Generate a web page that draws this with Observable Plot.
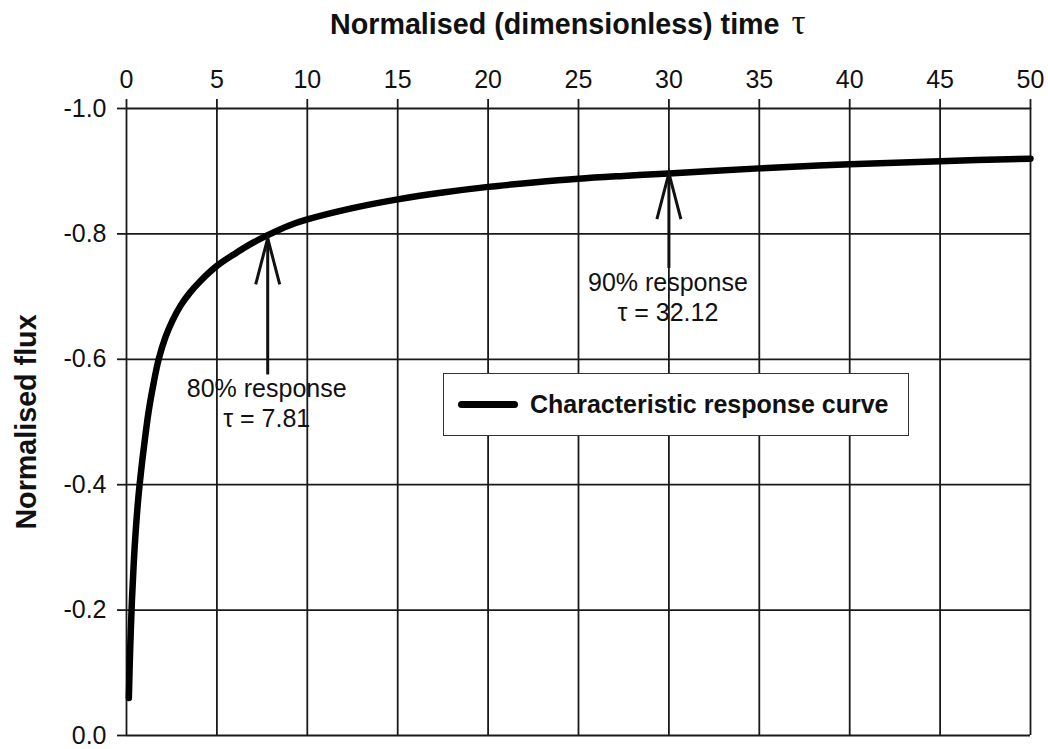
<!DOCTYPE html>
<html><head><meta charset="utf-8">
<script src="https://cdn.jsdelivr.net/npm/d3@7"></script>
<script src="https://cdn.jsdelivr.net/npm/@observablehq/plot@0.6"></script>
<style>
html,body{margin:0;padding:0;background:#fff;}
#wrap{position:relative;width:1048px;height:749px;overflow:hidden;font-family:'Liberation Sans',Arial,sans-serif;color:#111;}
#title{position:absolute;left:330px;top:0;height:45px;line-height:45px;font-weight:bold;font-size:28.7px;white-space:nowrap;}
#title .tau{font-family:'Liberation Serif','Times New Roman',serif;font-weight:normal;font-size:35px;margin-left:12px;}
#chart{position:absolute;left:0;top:45px;}
#legend{position:absolute;left:443px;top:373px;width:466px;height:63px;box-sizing:border-box;border:1.5px solid #333;background:#fff;display:flex;align-items:center;padding-left:14px;}
#legend .sw{width:60px;height:7px;border-radius:4px;background:#000;margin-right:12px;}
#legend .lab{font-weight:bold;font-size:25px;white-space:nowrap;}
</style>
</head><body>
<div id="wrap">
  <div id="title">Normalised (dimensionless) time<span class="tau">τ</span></div>
  <div id="chart"></div>
  <div id="legend"><div class="sw"></div><div class="lab">Characteristic response curve</div></div>
</div>
<script>
// ---- data ----
const xTicks = [0, 5, 10, 15, 20, 25, 30, 35, 40, 45, 50];
const yTicks = [0, -0.2, -0.4, -0.6, -0.8, -1.0];

const tau  = [0.13, 0.2, 0.3, 0.4, 0.5, 0.65, 0.8, 0.9, 1.05, 1.23, 1.5, 1.78, 2.15, 2.55, 3.0, 3.5, 4.09, 5, 6, 7, 7.81, 9, 10, 12.5, 15, 17.5, 20, 22.5, 25, 27.5, 30, 32.12, 35, 40, 45, 50];
const flux = [-0.06, -0.135, -0.215, -0.275, -0.322, -0.378, -0.42, -0.445, -0.48, -0.518, -0.562, -0.60, -0.635, -0.662, -0.686, -0.706, -0.725, -0.749, -0.7685, -0.786, -0.798, -0.8135, -0.823, -0.841, -0.855, -0.866, -0.875, -0.882, -0.888, -0.8925, -0.8965, -0.90, -0.9045, -0.911, -0.916, -0.920];

const annotTau   = [7.81, 30];
const annotTip   = [-0.793, -0.897];
const annotBase  = [-0.575, -0.745];
const annotLabel = ["80% response\nτ = 7.81", "90% response\nτ = 32.12"];

const yLabel = ["Normalised flux"];

// ---- build tables ----
const curve = tau.map((t, i) => ({tau: t, flux: flux[i]}));
const annots = annotTau.map((t, i) => ({tau: t, tip: annotTip[i], base: annotBase[i], label: annotLabel[i]}));

const wing = {
  draw(ctx) {
    ctx.moveTo(-12, 46);
    ctx.lineTo(0, 0);
    ctx.lineTo(12, 46);
  }
};

const ink = "#1a1a1a";

const chart = Plot.plot({
  width: 1048,
  height: 704,
  marginLeft: 126,
  marginRight: 18,
  marginTop: 63,
  marginBottom: 14,
  style: {fontFamily: "'Liberation Sans', Arial, sans-serif", fontSize: "25px", color: "#111", background: "#fff", overflow: "visible"},
  x: {domain: [0, 50]},
  y: {domain: [0, -1]},
  marks: [
    Plot.gridX(xTicks, {stroke: ink, strokeOpacity: 1, strokeWidth: 1.8}),
    Plot.gridY(yTicks, {stroke: ink, strokeOpacity: 1, strokeWidth: 1.8}),
    Plot.axisX(xTicks, {anchor: "top", tickSize: 10, tickPadding: 11, label: null, stroke: ink, strokeWidth: 1.8, fontSize: 25}),
    Plot.axisY(yTicks, {anchor: "left", tickSize: 9, tickPadding: 11, label: null, stroke: ink, strokeWidth: 1.8, fontSize: 25, tickFormat: d => d.toFixed(1)}),
    Plot.line(curve, {x: "tau", y: "flux", stroke: "#000", strokeWidth: 6.5, curve: "catmull-rom", strokeLinecap: "round", strokeLinejoin: "round"}),
    Plot.ruleX(annots, {x: "tau", y1: "base", y2: "tip", stroke: "#111", strokeWidth: 3}),
    Plot.dot(annots, {x: "tau", y: "tip", symbol: wing, fill: "none", stroke: "#111", strokeWidth: 3, strokeLinejoin: "miter"}),
    Plot.text(annots, {x: "tau", y: "base", text: "label", lineAnchor: "top", dy: 1, dx: -1, fontSize: 25, lineHeight: 1.2, fill: "#111"}),
    Plot.text(yLabel, {text: d => d, frameAnchor: "left", textAnchor: "middle", dx: -100, rotate: -90, fontSize: 28.7, fontWeight: "bold", fill: "#111"})
  ]
});
document.getElementById("chart").appendChild(chart);
</script>
</body></html>
